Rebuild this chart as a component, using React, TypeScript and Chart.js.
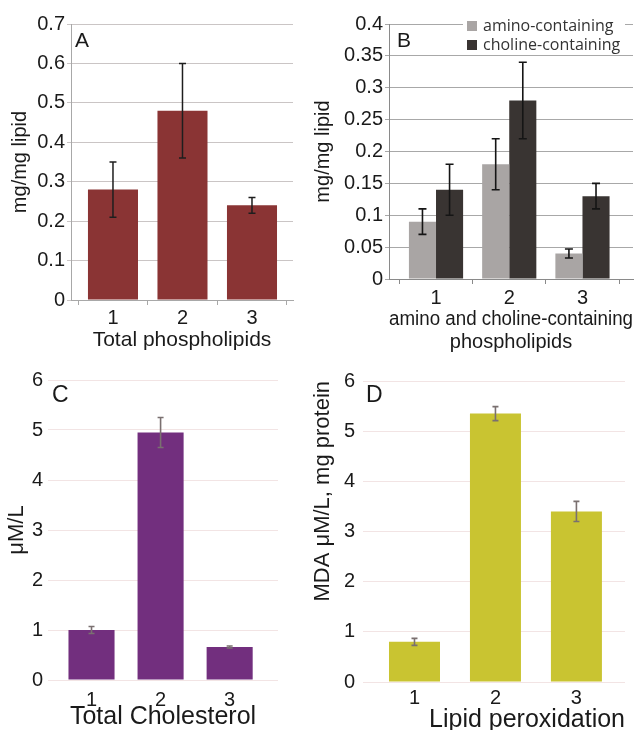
import React, { useEffect, useRef } from "react";
import { Chart, registerables } from "chart.js";

Chart.register(...registerables);

// ---------- data ----------
const CATEGORIES = ["1", "2", "3"];
const PANEL_LABELS = ["A", "B", "C", "D"];

const A_VALUES = [0.28, 0.48, 0.24];
const A_ERRORS = [0.07, 0.12, 0.02];

const B_SERIES = ["amino-containing", "choline-containing"];
const B_AMINO = [0.09, 0.18, 0.04];
const B_AMINO_ERR = [0.02, 0.04, 0.007];
const B_CHOLINE = [0.14, 0.28, 0.13];
const B_CHOLINE_ERR = [0.04, 0.06, 0.02];

const C_VALUES = [1.0, 4.95, 0.66];
const C_ERRORS = [0.07, 0.3, 0.02];

const D_VALUES = [0.8, 5.35, 3.4];
const D_ERRORS = [0.07, 0.14, 0.2];

const X_TITLES: (string | string[])[] = [
  "Total phospholipids",
  ["amino and choline-containing", "phospholipids"],
  "Total Cholesterol",
  "Lipid peroxidation",
];
const Y_TITLES = ["mg/mg lipid", "mg/mg lipid", "\u03BCM/L", "MDA \u03BCM/L, mg protein"];

const Y_MAX = [0.7, 0.4, 6, 6];
const Y_STEP = [0.1, 0.05, 1, 1];

// ---------- styling ----------
const FONT = "'Liberation Sans', Arial, Helvetica, sans-serif";
const TEXT = "#1a1a1a";

// ---------- plugins ----------
const errorBarPlugin = {
  id: "errorBars",
  afterDatasetsDraw(chart: any) {
    const ctx = chart.ctx;
    const yScale = chart.scales.y;
    chart.data.datasets.forEach((ds: any, i: number) => {
      if (!ds.errors) return;
      const meta = chart.getDatasetMeta(i);
      ctx.save();
      ctx.strokeStyle = ds.errorColor;
      ctx.lineWidth = ds.errorWidth;
      meta.data.forEach((el: any, j: number) => {
        const v = ds.data[j];
        const e = ds.errors[j];
        const x = el.x;
        const yTop = yScale.getPixelForValue(v + e);
        const yBot = yScale.getPixelForValue(v - e);
        const c = ds.capWidth / 2;
        ctx.beginPath();
        ctx.moveTo(x, yTop);
        ctx.lineTo(x, yBot);
        ctx.moveTo(x - c, yTop);
        ctx.lineTo(x + c, yTop);
        ctx.moveTo(x - c, yBot);
        ctx.lineTo(x + c, yBot);
        ctx.stroke();
      });
      ctx.restore();
    });
  },
};

const panelLabelPlugin = {
  id: "panelLabel",
  afterDraw(chart: any, _args: any, opts: any) {
    if (!opts || !opts.text) return;
    const { ctx, chartArea } = chart;
    ctx.save();
    ctx.font = `${opts.size}px ${FONT}`;
    ctx.fillStyle = TEXT;
    ctx.textBaseline = "alphabetic";
    ctx.textAlign = "left";
    ctx.fillText(opts.text, chartArea.left + opts.dx, chartArea.top + opts.dy);
    ctx.restore();
  },
};

const insideLegendPlugin = {
  id: "insideLegend",
  afterDraw(chart: any, _args: any, opts: any) {
    if (!opts || !opts.display) return;
    const { ctx, chartArea } = chart;
    const x0 = chartArea.right + opts.dx;
    const y0 = chartArea.top + opts.dy;
    ctx.save();
    ctx.fillStyle = "#ffffff";
    ctx.fillRect(x0 - 4, y0 - 9, opts.bgWidth, opts.bgHeight);
    chart.data.datasets.forEach((ds: any, i: number) => {
      const cy = y0 + i * opts.rowGap;
      ctx.fillStyle = ds.backgroundColor;
      ctx.fillRect(x0, cy - 5, 10, 10);
      ctx.fillStyle = "#333333";
      ctx.font = opts.font;
      ctx.textBaseline = "middle";
      ctx.textAlign = "left";
      ctx.fillText(ds.label, x0 + 16, cy);
    });
    ctx.restore();
  },
};

const fmt = (v: number) => String(+(+v).toFixed(2));
const catTicks = (s: any) => {
  s.ticks = CATEGORIES.map((_, i) => ({ value: i + 1 }));
};
const catLabel = (v: number) => CATEGORIES[Math.round(+v) - 1] ?? "";

// ---------- configs ----------
function configA(): any {
  return {
    type: "bar",
    data: {
      labels: CATEGORIES,
      datasets: [
        {
          label: X_TITLES[0] as string,
          data: A_VALUES,
          errors: A_ERRORS,
          backgroundColor: "#8a3434",
          errorColor: "#1e1e1e",
          errorWidth: 1.5,
          capWidth: 7,
          barPercentage: 0.72,
          categoryPercentage: 1,
        },
      ],
    },
    plugins: [errorBarPlugin, panelLabelPlugin],
    options: {
      responsive: false,
      animation: false,
      devicePixelRatio: 1,
      layout: { padding: { top: 24, right: 17, left: 0, bottom: 0 } },
      plugins: {
        legend: { display: false },
        tooltip: { enabled: false },
        panelLabel: { text: PANEL_LABELS[0], size: 21, dx: 4, dy: 23 },
      },
      scales: {
        x: {
          type: "linear",
          min: 0.396,
          max: 3.59,
          offset: false,
          afterBuildTicks: catTicks,
          grid: { drawOnChartArea: false, drawTicks: true, tickLength: 5, color: "#a8a8a8", offset: true },
          border: { display: true, color: "#a8a8a8" },
          ticks: { padding: 1, color: TEXT, font: { family: FONT, size: 20 }, callback: catLabel },
          title: {
            display: true,
            text: X_TITLES[0],
            color: TEXT,
            font: { family: FONT, size: 21 },
            padding: { top: 0, bottom: 7 },
          },
          afterFit: (s: any) => {
            s.height = 60;
          },
        },
        y: {
          min: 0,
          max: Y_MAX[0],
          ticks: { stepSize: Y_STEP[0], padding: 2, color: TEXT, font: { family: FONT, size: 20 }, callback: fmt },
          grid: { color: "#cac5c5", tickLength: 4 },
          border: { display: true, color: "#a8a8a8" },
          title: {
            display: true,
            text: Y_TITLES[0],
            color: TEXT,
            font: { family: FONT, size: 20 },
            padding: { top: 8, bottom: 0 },
          },
          afterFit: (s: any) => {
            s.width = 71;
          },
        },
      },
    },
  };
}

function configB(): any {
  return {
    type: "bar",
    data: {
      labels: CATEGORIES,
      datasets: [
        {
          label: B_SERIES[0],
          data: B_AMINO,
          errors: B_AMINO_ERR,
          backgroundColor: "#a9a5a4",
          errorColor: "#151515",
          errorWidth: 1.6,
          capWidth: 8,
          barPercentage: 1,
          categoryPercentage: 0.74,
        },
        {
          label: B_SERIES[1],
          data: B_CHOLINE,
          errors: B_CHOLINE_ERR,
          backgroundColor: "#393432",
          errorColor: "#151515",
          errorWidth: 1.6,
          capWidth: 8,
          barPercentage: 1,
          categoryPercentage: 0.74,
        },
      ],
    },
    plugins: [errorBarPlugin, panelLabelPlugin, insideLegendPlugin],
    options: {
      responsive: false,
      animation: false,
      devicePixelRatio: 1,
      layout: { padding: { top: 24, right: 2, left: 0, bottom: 0 } },
      plugins: {
        legend: { display: false },
        tooltip: { enabled: false },
        panelLabel: { text: PANEL_LABELS[1], size: 21, dx: 8, dy: 23 },
        insideLegend: {
          display: true,
          dx: -166,
          dy: 2,
          rowGap: 19,
          bgWidth: 162,
          bgHeight: 36,
          font: `16px 'Open Sans', 'Noto Sans', sans-serif`,
        },
      },
      scales: {
        x: {
          type: "linear",
          min: 0.358,
          max: 3.69,
          offset: false,
          afterBuildTicks: catTicks,
          grid: { drawOnChartArea: false, drawTicks: true, tickLength: 5, color: "#8a8a8a", offset: true },
          border: { display: true, color: "#8a8a8a" },
          ticks: { padding: 2, color: TEXT, font: { family: FONT, size: 20 }, callback: catLabel },
          title: {
            display: true,
            text: X_TITLES[1],
            color: TEXT,
            font: { family: FONT, size: 20, lineHeight: 1.15 },
            padding: { top: 0, bottom: 6 },
          },
          afterFit: (s: any) => {
            s.height = 81;
          },
        },
        y: {
          min: 0,
          max: Y_MAX[1],
          ticks: { stepSize: Y_STEP[1], padding: 2, color: TEXT, font: { family: FONT, size: 20 }, callback: fmt },
          grid: { color: "#a8a8a8", tickLength: 4 },
          border: { display: true, color: "#8a8a8a" },
          title: {
            display: true,
            text: Y_TITLES[1],
            color: TEXT,
            font: { family: FONT, size: 20 },
            padding: { top: 1, bottom: 0 },
          },
          afterFit: (s: any) => {
            s.width = 79;
          },
        },
      },
    },
  };
}

function configCD(idx: number): any {
  const isC = idx === 2;
  return {
    type: "bar",
    data: {
      labels: CATEGORIES,
      datasets: [
        {
          label: X_TITLES[idx] as string,
          data: isC ? C_VALUES : D_VALUES,
          errors: isC ? C_ERRORS : D_ERRORS,
          backgroundColor: isC ? "#722f7e" : "#c9c431",
          errorColor: "#7a7070",
          errorWidth: 1.6,
          capWidth: 6,
          barPercentage: isC ? 0.667 : 0.63,
          categoryPercentage: 1,
        },
      ],
    },
    plugins: [errorBarPlugin, panelLabelPlugin],
    options: {
      responsive: false,
      animation: false,
      devicePixelRatio: 1,
      layout: { padding: { top: isC ? 20 : 21, right: isC ? 32 : 10, left: 0, bottom: 0 } },
      plugins: {
        legend: { display: false },
        tooltip: { enabled: false },
        panelLabel: { text: PANEL_LABELS[idx], size: 23, dx: isC ? 4 : 3, dy: isC ? 22 : 21 },
      },
      scales: {
        x: {
          type: "linear",
          min: isC ? 0.37 : 0.364,
          max: isC ? 3.7 : 3.6,
          offset: false,
          afterBuildTicks: catTicks,
          grid: { display: false, drawTicks: false },
          border: { display: false },
          ticks: { padding: isC ? 8 : 4, color: TEXT, font: { family: FONT, size: 20 }, callback: catLabel },
          title: {
            display: true,
            text: X_TITLES[idx],
            color: TEXT,
            align: isC ? "center" : "end",
            font: { family: FONT, size: isC ? 25 : 25, lineHeight: isC ? 1 : 0.8 },
            padding: { top: 0, bottom: 0 },
          },
          afterFit: (s: any) => {
            s.height = isC ? 50 : 48;
          },
        },
        y: {
          min: 0,
          max: Y_MAX[idx],
          ticks: { stepSize: Y_STEP[idx], padding: isC ? 5 : 8, color: TEXT, font: { family: FONT, size: 20 }, callback: fmt },
          grid: { color: "#f2e4e4", drawTicks: false },
          border: { display: false },
          title: {
            display: true,
            text: Y_TITLES[idx],
            color: TEXT,
            align: isC ? "center" : "end",
            font: { family: FONT, size: 22 },
            padding: { top: isC ? 4 : 0, bottom: 0 },
          },
          afterFit: (s: any) => {
            s.width = isC ? 48 : 53;
          },
        },
      },
    },
  };
}

// ---------- components ----------
function ChartPanel(props: { left: number; top: number; width: number; height: number; make: () => any }) {
  const ref = useRef<HTMLCanvasElement | null>(null);
  useEffect(() => {
    if (!ref.current) return;
    const chart = new Chart(ref.current, props.make());
    return () => chart.destroy();
  }, []);
  return (
    <div
      style={{
        position: "absolute",
        left: props.left,
        top: props.top,
        width: props.width,
        height: props.height,
      }}
    >
      <canvas ref={ref} width={props.width} height={props.height} style={{ display: "block" }} />
    </div>
  );
}

export default function App() {
  return (
    <div
      style={{
        position: "absolute",
        left: 0,
        top: 0,
        width: 635,
        height: 730,
        background: "#ffffff",
        overflow: "hidden",
      }}
    >
      <ChartPanel left={0} top={0} width={310} height={360} make={configA} />
      <ChartPanel left={310} top={0} width={325} height={360} make={configB} />
      <ChartPanel left={0} top={360} width={310} height={370} make={() => configCD(2)} />
      <ChartPanel left={310} top={360} width={325} height={370} make={() => configCD(3)} />
    </div>
  );
}
